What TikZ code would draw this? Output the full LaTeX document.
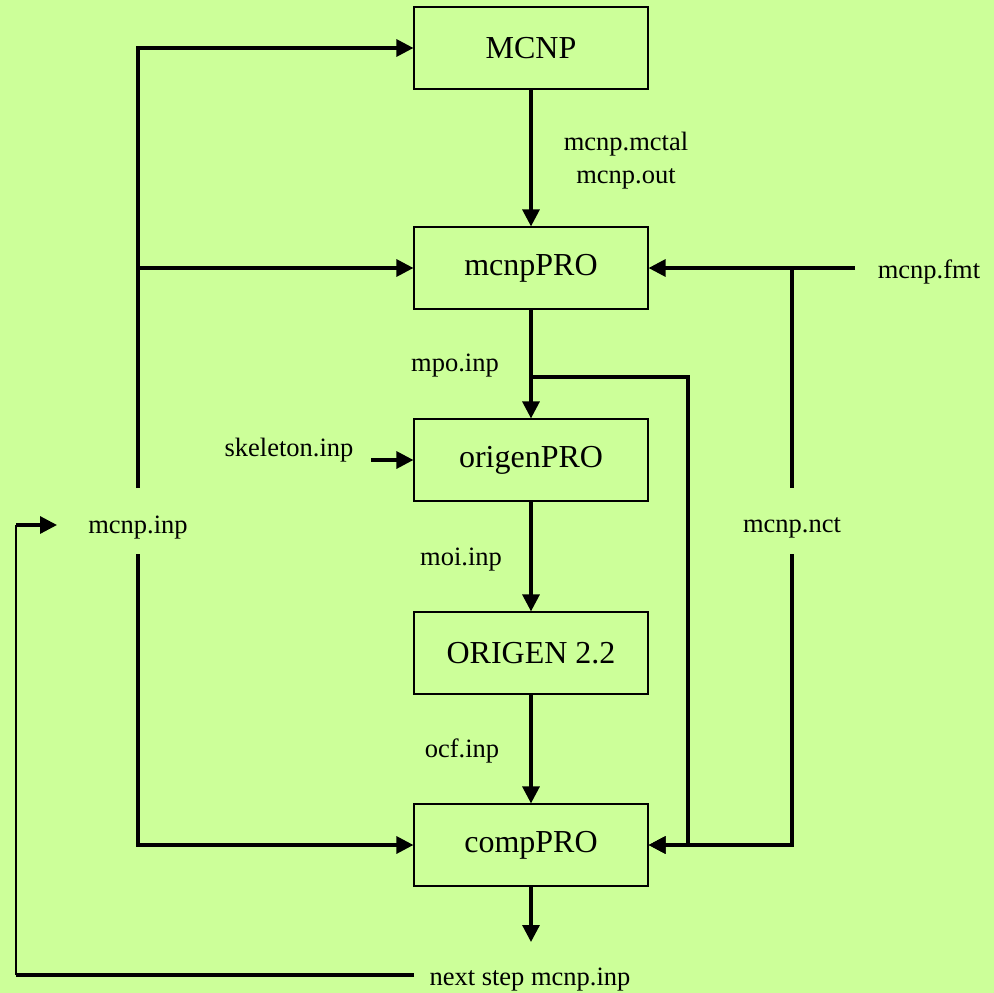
\documentclass[tikz,border=0pt]{standalone}
\usepackage{fontspec}
\setmainfont{Liberation Serif}
\usetikzlibrary{arrows.meta}
\definecolor{bgreen}{RGB}{204,255,153}
\begin{document}
\begin{tikzpicture}[x=1pt,y=-1pt,
  procbox/.style={draw=black,line width=1.2pt,fill=bgreen,minimum width=234pt,minimum height=82pt,inner sep=0pt,font=\fontsize{32}{38}\selectfont},
  lbl/.style={inner sep=0pt,font=\fontsize{26.5}{33}\selectfont,align=center},
  wire/.style={line width=3.2pt},
  thinwire/.style={line width=1.6pt},
  arr/.style={wire,-{Triangle[length=17pt,width=17pt]}}]
\fill[bgreen] (0,0) rectangle (994,993);
\useasboundingbox (0,0) rectangle (994,993);
% boxes
\node[procbox] (mcnp) at (531,48) {MCNP};
\node[procbox] (mpro) at (531,268) {mcnpPRO};
\node[procbox] (opro) at (531,460) {origenPRO};
\node[procbox] (orig) at (531,653) {ORIGEN 2.2};
\node[procbox] (cpro) at (531,845) {compPRO};
% labels
\node[lbl] (mctal) at (626,161) {mcnp.mctal\\mcnp.out};
\node[lbl] (mpo) at (455,366) {mpo.inp};
\node[lbl] (skel) at (289,450) {skeleton.inp};
\node[lbl] (moi) at (461,560) {moi.inp};
\node[lbl] (ocf) at (462,751) {ocf.inp};
\node[lbl] (minp) at (138,528) {mcnp.inp};
\node[lbl] (mnct) at (792,528) {mcnp.nct};
\node[lbl] (mfmt) at (929,272) {mcnp.fmt};
\node[lbl] (next) at (530,980) {next step mcnp.inp};
% helper coordinates
\coordinate (a1) at (138,488);
\coordinate (a2) at (138,554);
\coordinate (n1) at (792,488);
\coordinate (n2) at (792,554);
\coordinate (f1) at (855,268);
\coordinate (j) at (531,377);
\coordinate (jr) at (688,377);
\coordinate (s1) at (371,460);
\coordinate (cend) at (531,942);
\coordinate (L1) at (414,975);
\coordinate (L2) at (16,975);
\coordinate (L3) at (16,525);
\coordinate (L4) at (57,525);
% main chain
\draw[arr] (mcnp.south) -- (mpro.north);
\draw[arr] (mpro.south) -- (opro.north);
\draw[arr] (opro.south) -- (orig.north);
\draw[arr] (orig.south) -- (cpro.north);
\draw[arr] (cpro.south) -- (cend);
% skeleton
\draw[arr] (s1) -- (opro.west);
% left trunk
\draw[arr] (a1) |- (mcnp.west);
\draw[arr] (a1 |- mpro.west) -- (mpro.west);
\draw[arr] (a2) |- (cpro.west);
% right side
\draw[arr] (f1) -- (mpro.east);
\draw[wire] (n1 |- mpro.east) -- (n1);
\draw[arr] (n2) |- (cpro.east);
\draw[arr] (j) -- (jr) |- (cpro.east);
% loop back
\draw[wire] (L1) -- (L2);
\draw[thinwire] (L2) -- (L3);
\draw[arr] (L3) -- (L4);
\end{tikzpicture}
\end{document}
